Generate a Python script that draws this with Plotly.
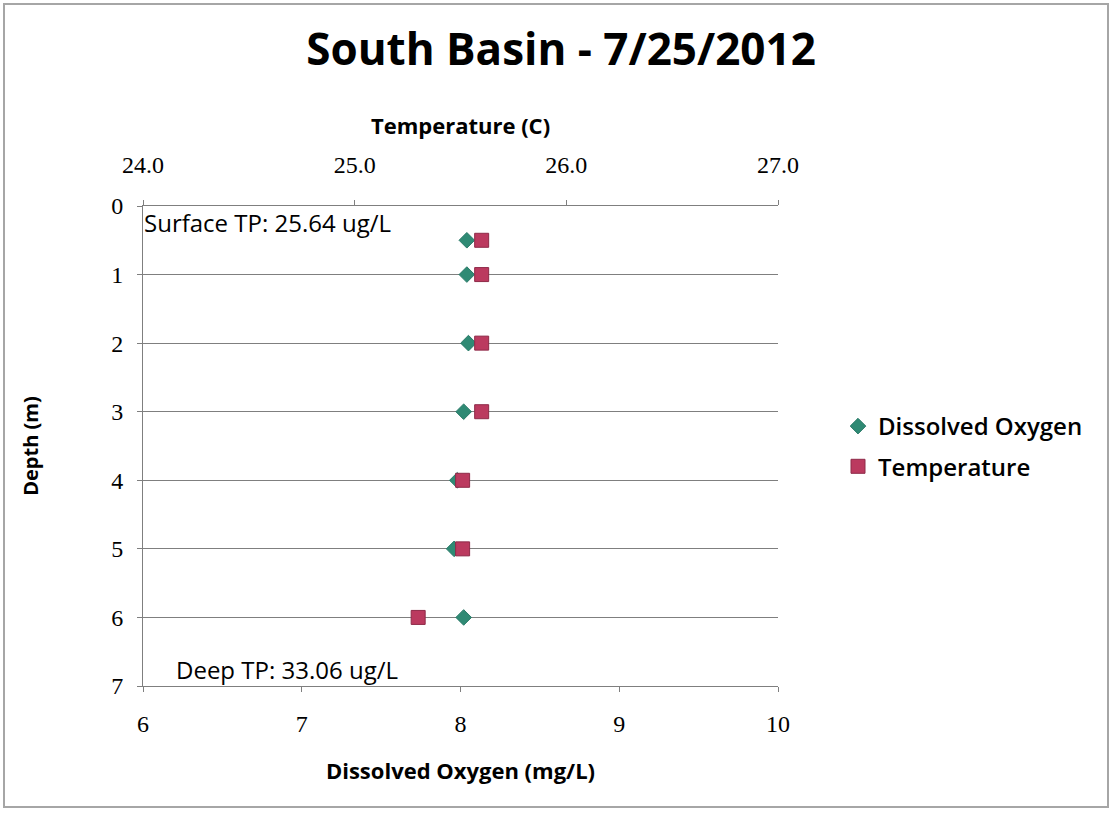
import plotly.graph_objects as go

# Profile data, South Basin 7/25/2012
depth_m = [0.5, 1, 2, 3, 4, 5, 6]
dissolved_oxygen = [8.04, 8.04, 8.05, 8.02, 7.98, 7.96, 8.02]
temperature_c = [25.60, 25.60, 25.60, 25.60, 25.51, 25.51, 25.30]

do_ticks = [6, 7, 8, 9, 10]
temp_ticks = [24.0, 25.0, 26.0, 27.0]
depth_ticks = [0, 1, 2, 3, 4, 5, 6, 7]

surface_tp = "Surface TP: 25.64 ug/L"
deep_tp = "Deep TP: 33.06 ug/L"

W, H = 1117, 814
L, R, T, B = 143, 778, 206, 686
pw, ph = R - L, B - T

sans = "'Open Sans', Lato, sans-serif"
serif = "'Liberation Serif', 'DejaVu Serif', serif"

fig = go.Figure()
fig.add_trace(go.Scatter(
    x=dissolved_oxygen, y=depth_m, name="Dissolved Oxygen", mode="markers",
    legendgroup="do",
    marker=dict(symbol="diamond", size=12, color="#2f8a74",
                line=dict(color="#2a7a68", width=1)),
    xaxis="x", yaxis="y",
))
fig.add_trace(go.Scatter(
    x=temperature_c, y=depth_m, name="Temperature", mode="markers",
    legendgroup="temp",
    marker=dict(symbol="square", size=14, color="#bb3a5f",
                line=dict(color="#8e2a48", width=1)),
    xaxis="x2", yaxis="y",
))


def px_x(p):
    return (p - L) / pw


def px_y(p):
    return (B - p) / ph


fig.update_layout(
    width=W, height=H,
    margin=dict(l=L, r=W - R, t=T, b=H - B),
    paper_bgcolor="white", plot_bgcolor="white",
    showlegend=True,
    title=dict(text="<b>South Basin - 7/25/2012</b>", x=561 / W, xanchor="center",
               y=1 - 50 / H, yanchor="middle",
               font=dict(family=sans, size=44, color="black")),
    xaxis=dict(range=[6, 10], tickvals=do_ticks, ticktext=[str(v) for v in do_ticks],
               side="bottom", showline=True, linecolor="#7f7f7f", linewidth=1,
               ticks="outside", ticklen=5, tickcolor="#7f7f7f",
               ticklabelstandoff=11,
               showgrid=False, zeroline=False,
               tickfont=dict(family=serif, size=24, color="black"),
               title=dict(text="<b>Dissolved Oxygen (mg/L)</b>", standoff=27,
                          font=dict(family=sans, size=22, color="black"))),
    xaxis2=dict(range=[24, 27], tickvals=temp_ticks,
                ticktext=[f"{v:.1f}" for v in temp_ticks],
                overlaying="x", side="top", anchor="y",
                showline=True, linecolor="#7f7f7f", linewidth=1,
                ticks="outside", ticklen=5, tickcolor="#7f7f7f",
                ticklabelstandoff=17,
                showgrid=False, zeroline=False,
                tickfont=dict(family=serif, size=24, color="black"),
                title=dict(text="<b>Temperature (C)</b>", standoff=11,
                           font=dict(family=sans, size=22, color="black"))),
    yaxis=dict(range=[7, 0], tickvals=depth_ticks, showline=True,
               linecolor="#7f7f7f", linewidth=1, ticks="outside", ticklen=5,
               tickcolor="#7f7f7f", showgrid=True, gridcolor="#7f7f7f",
               ticklabelstandoff=9,
               gridwidth=1, zeroline=False,
               tickfont=dict(family=serif, size=24, color="black"),
               title=dict(text="<b>Depth (m)</b>", standoff=67,
                          font=dict(family=sans, size=20, color="black"))),
    legend=dict(x=px_x(838), y=px_y(404), xanchor="left", yanchor="top",
                font=dict(family=sans, size=24, color="black", weight=600),
                bgcolor="rgba(0,0,0,0)", tracegroupgap=6, itemwidth=30),
    shapes=[dict(type="rect", xref="paper", yref="paper",
                 x0=px_x(4), x1=px_x(1108), y0=px_y(807), y1=px_y(4),
                 line=dict(color="#a6a6a6", width=2), fillcolor="rgba(0,0,0,0)")],
    annotations=[
        dict(text=surface_tp, xref="paper", yref="paper", x=px_x(142), y=px_y(222),
             xanchor="left", yanchor="middle", showarrow=False,
             font=dict(family=sans, size=24, color="black")),
        dict(text=deep_tp, xref="paper", yref="paper", x=px_x(174), y=px_y(669),
             xanchor="left", yanchor="middle", showarrow=False,
             font=dict(family=sans, size=24, color="black")),
    ],
)

fig.write_html("out.html")
